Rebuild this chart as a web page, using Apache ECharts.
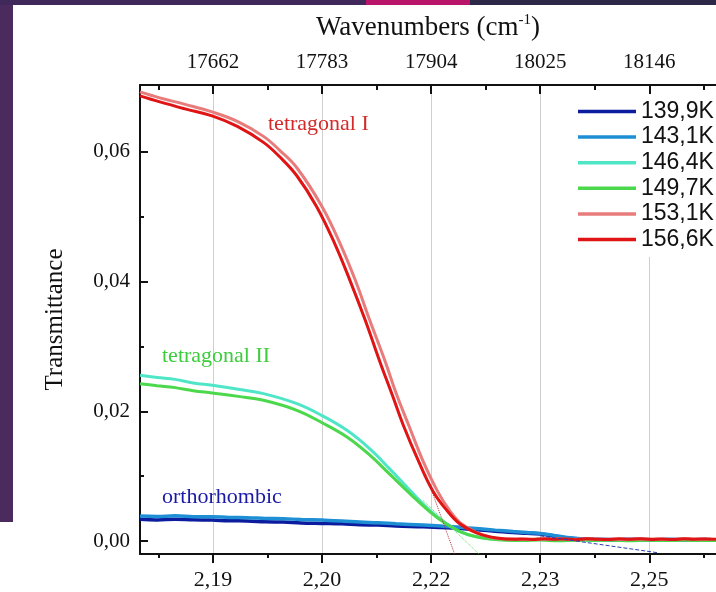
<!DOCTYPE html>
<html><head><meta charset="utf-8">
<script src="https://cdn.jsdelivr.net/npm/echarts@6/dist/echarts.min.js"></script>
<style>html,body{margin:0;padding:0;background:#fff}#c{width:716px;height:592px}</style>
</head><body><div id="c"></div>
<script>
// ---- Data (wavenumber cm^-1, transmittance) ----
const seriesNames = ['139,9K','143,1K','146,4K','149,7K','153,1K','156,6K'];

const majorWn = [17662, 17783, 17904, 18025, 18146];
const minorWn = [17601.5, 17722.5, 17843.5, 17964.5, 18085.5, 18206.5];
const topTickLabels = ['17662','17783','17904','18025','18146'];
const bottomTickLabels = ['2,19','2,20','2,22','2,23','2,25'];
const yMajor = [0, 0.02, 0.04, 0.06];
const yMinor = [0.01, 0.03, 0.05];

const wnBlue = [17581,17600,17620,17640,17661,17680,17700,17720,17740,17760,17783,17805,17825,17845,17865,17895,17915,17933,17958,17975,17995,18010,18025,18040,18055,18070,18092,18110,18130,18150,18170,18190,18210];
const t139 = [0.00334,0.00326,0.00337,0.00327,0.00323,0.00312,0.00310,0.00296,0.00292,0.00279,0.00272,0.00265,0.00250,0.00247,0.00232,0.00220,0.00207,0.00195,0.00169,0.00152,0.00131,0.00121,0.00108,0.00078,0.00046,0.00030,0.00023,0.00020,0.00024,0.00019,0.00023,0.00020,0.00022];
const t143 = [0.00385,0.00378,0.00388,0.00376,0.00374,0.00364,0.00360,0.00349,0.00342,0.00333,0.00323,0.00310,0.00292,0.00283,0.00266,0.00246,0.00230,0.00215,0.00188,0.00168,0.00146,0.00131,0.00115,0.00086,0.00054,0.00034,0.00023,0.00021,0.00025,0.00020,0.00024,0.00021,0.00023];

const wnTet2 = [17581,17600,17620,17640,17661,17690,17718,17755,17783,17811,17836,17858,17881,17903,17920,17936,17953,17970,17986,18005,18025,18045,18065,18085,18105,18125,18145,18165,18185,18205,18220];
const t146 = [0.02554,0.02520,0.02492,0.02436,0.02400,0.02340,0.02272,0.02118,0.01934,0.01703,0.01420,0.01112,0.00774,0.00466,0.00277,0.00146,0.00069,0.00035,0.00022,0.00020,0.00026,0.00018,0.00024,0.00019,0.00025,0.00017,0.00023,0.00020,0.00024,0.00019,0.00022];
const t149 = [0.02426,0.02395,0.02365,0.02318,0.02282,0.02230,0.02169,0.02015,0.01823,0.01600,0.01323,0.01031,0.00723,0.00446,0.00269,0.00146,0.00069,0.00031,0.00012,0.00008,0.00014,0.00006,0.00012,0.00009,0.00013,0.00005,0.00011,0.00008,0.00012,0.00007,0.00010];

const wn153 = [17581,17603,17631,17661,17689,17718,17736,17755,17783,17803,17820,17836,17853,17866,17880,17895,17911,17925,17938,17956,17977,17998,18010,18022,18034,18046,18058,18070,18082,18094,18106,18118,18130,18142,18154,18166,18178,18190,18202,18214];
const t153 = [0.06923,0.06831,0.06731,0.06615,0.06469,0.06238,0.06023,0.05754,0.05154,0.04585,0.04015,0.03400,0.02769,0.02246,0.01754,0.01231,0.00769,0.00462,0.00262,0.00123,0.00040,0.00030,0.00022,0.00031,0.00027,0.00034,0.00023,0.00030,0.00035,0.00026,0.00031,0.00024,0.00033,0.00028,0.00032,0.00023,0.00030,0.00034,0.00026,0.00031];

const wn156 = [17581,17603,17631,17661,17689,17718,17736,17755,17777,17797,17814,17831,17847,17861,17874,17890,17906,17922,17936,17955,17977,17997,18008,18019,18030,18041,18052,18064,18076,18088,18100,18112,18124,18136,18148,18160,18172,18184,18196,18208,18220];
const t156 = [0.06862,0.06769,0.06662,0.06554,0.06392,0.06146,0.05923,0.05631,0.05154,0.04585,0.04015,0.03400,0.02769,0.02246,0.01754,0.01231,0.00769,0.00462,0.00262,0.00123,0.00046,0.00026,0.00033,0.00024,0.00035,0.00026,0.00033,0.00021,0.00036,0.00028,0.00024,0.00034,0.00027,0.00037,0.00025,0.00031,0.00022,0.00035,0.00029,0.00033,0.00026];

// extrapolation (tangent) lines
const wnTanRed = [17898, 17930];   const tTanRed = [0.01029, -0.0020];
const wnTanGreen = [17895, 17957]; const tTanGreen = [0.00625, -0.0020];
const wnTanBlue = [18025, 18155];  const tTanBlue = [0.0008, -0.0018];

// ---- Chart ----
const serif = 'Liberation Serif';
const sans = 'Liberation Sans';
const X_MIN = 17581, X_MAX = 18220, Y_MIN = -0.002, Y_MAX = 0.0703;
const ink = '#111';
const colors = ['#0b1c9e', '#1e8fd4', '#4fe6c8', '#4cd84c', '#e87c7c', '#e01414'];
const pair = (w, t) => w.map((x, i) => [x, t[i]]);
const nearestIdx = (arr, v) => { let b = 0; arr.forEach((a, i) => { if (Math.abs(a - v) < Math.abs(arr[b] - v)) b = i; }); return b; };

const chart = echarts.init(document.getElementById('c'));

const lineSeries = (name, data, color, width) => ({
  name, type: 'line', data, showSymbol: false, smooth: 0.4,
  xAxisIndex: 0, yAxisIndex: 0,
  color: color,
  lineStyle: { color, width: width || 3 },
  itemStyle: { color },
  emphasis: { disabled: true },
});
const tanSeries = (data, color, type) => ({
  type: 'line', data, showSymbol: false, xAxisIndex: 0, yAxisIndex: 0,
  lineStyle: { color, width: 1, type }, silent: true, z: 3
});

const option = {
  animation: false,
  backgroundColor: '#fff',
  grid: { left: 140, right: 0, top: 85, bottom: 38, outerBoundsMode: 'none' },
  xAxis: [
    { type: 'value', position: 'bottom', min: X_MIN, max: X_MAX,
      axisLine: { show: true, onZero: false, lineStyle: { color: ink, width: 2 } },
      axisTick: { show: true, inside: false, length: 9, customValues: majorWn, lineStyle: { color: ink, width: 2 } },
      axisLabel: { customValues: majorWn, formatter: v => bottomTickLabels[nearestIdx(majorWn, v)], margin: 15,
        fontFamily: serif, fontSize: 22, color: ink },
      splitLine: { show: true, lineStyle: { color: '#cfcfcf', width: 1 } } },
    { type: 'value', position: 'bottom', min: X_MIN, max: X_MAX,
      axisLine: { show: false, onZero: false },
      axisTick: { show: true, inside: false, length: 4, customValues: minorWn, lineStyle: { color: ink, width: 2 } },
      axisLabel: { show: false }, splitLine: { show: false } },
    { type: 'value', position: 'top', min: X_MIN, max: X_MAX,
      axisLine: { show: true, onZero: false, lineStyle: { color: ink, width: 2 } },
      axisTick: { show: true, inside: true, length: 9, customValues: majorWn, lineStyle: { color: ink, width: 2 } },
      axisLabel: { customValues: majorWn, formatter: v => topTickLabels[nearestIdx(majorWn, v)], margin: 12,
        fontFamily: serif, fontSize: 21, color: ink },
      splitLine: { show: false },
      name: '{a|Wavenumbers (cm}{s|-1}{a|)}', nameLocation: 'middle', nameGap: 42, nameMoveOverlap: false,
      nameTextStyle: { fontFamily: serif, fontSize: 27, color: ink,
        rich: { a: { fontFamily: serif, fontSize: 27, color: ink, lineHeight: 30 },
                s: { fontFamily: serif, fontSize: 15, color: ink, verticalAlign: 'top', lineHeight: 30 } } } },
    { type: 'value', position: 'top', min: X_MIN, max: X_MAX,
      axisLine: { show: false, onZero: false },
      axisTick: { show: true, inside: true, length: 5, customValues: minorWn, lineStyle: { color: ink, width: 2 } },
      axisLabel: { show: false }, splitLine: { show: false } }
  ],
  yAxis: [
    { type: 'value', position: 'left', min: Y_MIN, max: Y_MAX,
      axisLine: { show: true, onZero: false, lineStyle: { color: ink, width: 2 } },
      axisTick: { show: true, inside: true, length: 8, customValues: yMajor, lineStyle: { color: ink, width: 2 } },
      axisLabel: { customValues: yMajor, formatter: v => v.toFixed(2).replace('.', ','), margin: 10,
        fontFamily: serif, fontSize: 21, color: ink },
      splitLine: { show: false },
      name: 'Transmittance', nameLocation: 'middle', nameGap: 72, nameRotate: 90, nameMoveOverlap: false,
      nameTextStyle: { fontFamily: serif, fontSize: 25, color: ink } },
    { type: 'value', position: 'left', min: Y_MIN, max: Y_MAX,
      axisLine: { show: false, onZero: false },
      axisTick: { show: true, inside: true, length: 4, customValues: yMinor, lineStyle: { color: ink, width: 2 } },
      axisLabel: { show: false }, splitLine: { show: false } }
  ],
  legend: {
    orient: 'vertical', left: 572, top: 94, padding: [6, 4, 6, 6], backgroundColor: '#fff',
    itemWidth: 58, itemHeight: 3.5, itemGap: 2.6, icon: 'rect', selectedMode: false,
    textStyle: { fontFamily: sans, fontSize: 23, color: ink, lineHeight: 22 },
    data: seriesNames
  },
  graphic: [
    { type: 'rect', shape: { x: 0, y: 0, width: 13, height: 522 }, style: { fill: '#4b2a5e' }, silent: true },
    { type: 'rect', shape: { x: 0, y: 0, width: 366, height: 5 }, style: { fill: '#40285a' }, silent: true },
    { type: 'rect', shape: { x: 366, y: 0, width: 104, height: 5 }, style: { fill: '#b8146a' }, silent: true },
    { type: 'rect', shape: { x: 470, y: 0, width: 246, height: 5 }, style: { fill: '#2d2848' }, silent: true },
    { type: 'text', left: 268, top: 113, silent: true, z: 50,
      style: { text: 'tetragonal I', fontFamily: serif, fontSize: 22, fill: '#d42a2a' } },
    { type: 'text', left: 162, top: 345, silent: true, z: 50,
      style: { text: 'tetragonal II', fontFamily: serif, fontSize: 22, fill: '#3ccc3c' } },
    { type: 'text', left: 162, top: 486, silent: true, z: 50,
      style: { text: 'orthorhombic', fontFamily: serif, fontSize: 22, fill: '#1a1aa6' } }
  ],
  series: [
    lineSeries(seriesNames[0], pair(wnBlue, t139), colors[0], 3.5),
    lineSeries(seriesNames[1], pair(wnBlue, t143), colors[1], 3.5),
    lineSeries(seriesNames[2], pair(wnTet2, t146), colors[2], 3),
    lineSeries(seriesNames[3], pair(wnTet2, t149), colors[3], 3),
    lineSeries(seriesNames[4], pair(wn153, t153), colors[4], 3),
    lineSeries(seriesNames[5], pair(wn156, t156), colors[5], 3),
    tanSeries(pair(wnTanRed, tTanRed), '#b03030', 'dotted'),
    tanSeries(pair(wnTanGreen, tTanGreen), '#5cd65c', 'dotted'),
    tanSeries(pair(wnTanBlue, tTanBlue), '#2840b0', 'dashed')
  ]
};
chart.setOption(option);
</script></body></html>
